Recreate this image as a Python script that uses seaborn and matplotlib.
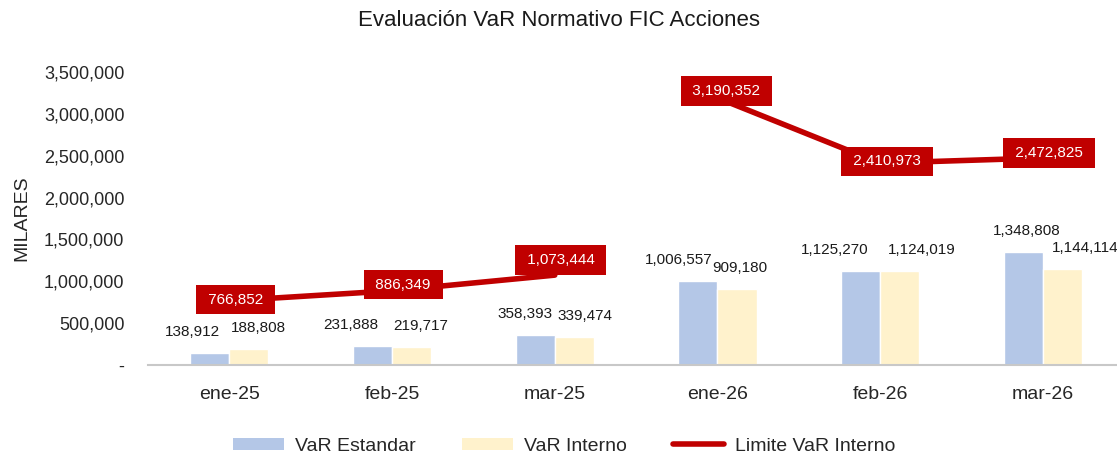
import matplotlib
matplotlib.use('Agg')
import matplotlib.pyplot as plt
import seaborn as sns
import pandas as pd
import numpy as np
from matplotlib.patches import Patch
from matplotlib.lines import Line2D
from matplotlib.ticker import FuncFormatter, FixedLocator

# data
meses = ['ene-25', 'feb-25', 'mar-25', 'ene-26', 'feb-26', 'mar-26']
var_estandar = [138912, 231888, 358393, 1006557, 1125270, 1348808]
var_interno = [188808, 219717, 339474, 909180, 1124019, 1144114]
limite_interno = [766852, 886349, 1073444, 3190352, 2410973, 2472825]
periodo = ['2025', '2025', '2025', '2026', '2026', '2026']

# label nudges (pixels), as Excel placed them
nudge_est = [-17, -22, -10, -19, -26, 3]
nudge_int = [10, 9, 11, 3, 22, 23]
nudge_lim = [(6, 1), (11, 6), (6, 15), (9, 7), (7, 2), (6, 5)]

AZUL = '#b4c7e7'
AMARILLO = '#fff2cc'
ROJO = '#c00000'

sns.set_theme(style='white')
plt.rcParams['font.family'] = ['Liberation Sans', 'DejaVu Sans']

df = pd.DataFrame({'mes': meses * 2,
                   'valor': var_estandar + var_interno,
                   'serie': ['VaR Estandar'] * 6 + ['VaR Interno'] * 6})

fig = plt.figure(figsize=(11.17, 4.59), dpi=100)
ax = fig.add_axes([0.1325, 0.2048, 0.874, 0.6384])

sns.barplot(data=df, x='mes', y='valor', hue='serie', palette=[AZUL, AMARILLO],
            width=0.48, gap=0, ax=ax, legend=False, saturation=1)

# bar value labels
for i in range(len(meses)):
    ax.annotate(f'{var_estandar[i]:,}', (i - 0.12, var_estandar[i]), xytext=(nudge_est[i], 21),
                textcoords='offset pixels', ha='center', va='center', fontsize=11, color='#1a1a1a')
    ax.annotate(f'{var_interno[i]:,}', (i + 0.12, var_interno[i]), xytext=(nudge_int[i], 21),
                textcoords='offset pixels', ha='center', va='center', fontsize=11, color='#1a1a1a')

# limit line, broken between years
lim = pd.DataFrame({'x': np.arange(len(meses)), 'y': limite_interno, 'p': periodo})
sns.lineplot(data=lim, x='x', y='y', units='p', estimator=None, color=ROJO,
             linewidth=4, ax=ax, legend=False)
for i, v in enumerate(limite_interno):
    ax.annotate(f' {v:,} ', (i, v), xytext=nudge_lim[i], textcoords='offset pixels',
                ha='center', va='center', color='white', fontsize=11,
                bbox=dict(boxstyle='square,pad=0.5', facecolor=ROJO, edgecolor='none'))

ax.set_xlim(-0.5, 5.5)
ax.set_ylim(0, 3500000)
ax.yaxis.set_major_locator(FixedLocator(np.arange(0, 3500001, 500000)))
ax.yaxis.set_major_formatter(FuncFormatter(lambda v, p: '-' if v == 0 else f'{int(v):,}'))
ax.tick_params(axis='y', labelsize=13, length=0, pad=17)
ax.tick_params(axis='x', which='major', labelsize=14, length=0, pad=15)
ax.set_xticks(np.arange(-0.5, 6, 1), minor=True)
ax.tick_params(axis='x', which='minor', length=5, color='#c8c8c8', width=1.2)
ax.set_xlabel('')
ax.set_ylabel('MILARES', fontsize=14)
ax.yaxis.set_label_coords(-0.12, 0.5)

for s in ['top', 'right', 'left']:
    ax.spines[s].set_visible(False)
ax.spines['bottom'].set_color('#c8c8c8')
ax.spines['bottom'].set_linewidth(1.5)

fig.text(0.5, 1 - 20 / 459, 'Evaluación VaR Normativo FIC Acciones', fontsize=16,
         ha='center', va='center', color='#1a1a1a')

handles = [Patch(facecolor=AZUL, edgecolor='none'),
           Patch(facecolor=AMARILLO, edgecolor='none'),
           Line2D([0], [0], color=ROJO, linewidth=4, solid_capstyle='round')]
fig.legend(handles, ['VaR Estandar', 'VaR Interno', 'Limite VaR Interno'], loc='center',
           bbox_to_anchor=(0.505, 0.028), ncol=3, frameon=False, fontsize=14,
           handlelength=2.63, handleheight=0.62, handletextpad=0.57, columnspacing=2.37)

fig.savefig('out.png', dpi=100)
